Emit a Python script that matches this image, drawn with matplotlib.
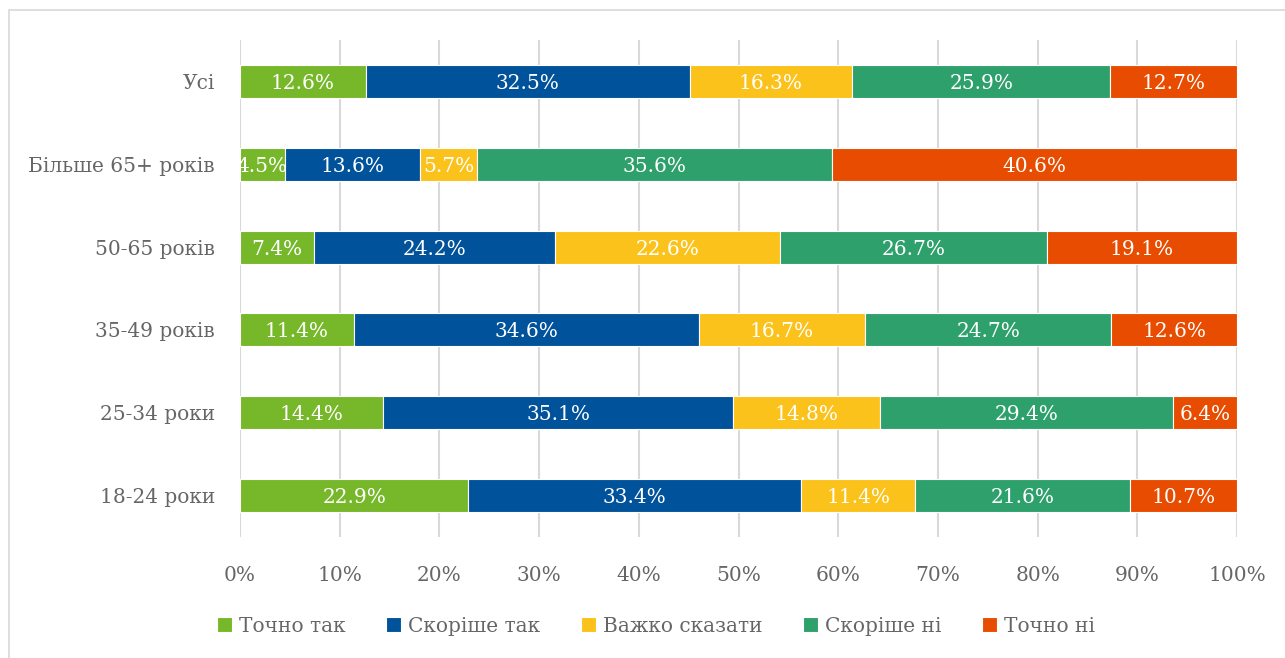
import numpy as np
import matplotlib
matplotlib.use("Agg")
from matplotlib import pyplot as plt
from matplotlib.patches import Rectangle

plt.rcParams['font.family'] = ['DejaVu Serif']

# data (top to bottom as in the picture)
groups = ['Усі', 'Більше 65+ років', '50-65 років', '35-49 років', '25-34 роки', '18-24 роки']
series = ['Точно так', 'Скоріше так', 'Важко сказати', 'Скоріше ні', 'Точно ні']
tochno_tak = [12.6, 4.5, 7.4, 11.4, 14.4, 22.9]
skorishe_tak = [32.5, 13.6, 24.2, 34.6, 35.1, 33.4]
vazhko = [16.3, 5.7, 22.6, 16.7, 14.8, 11.4]
skorishe_ni = [25.9, 35.6, 26.7, 24.7, 29.4, 21.6]
tochno_ni = [12.7, 40.6, 19.1, 12.6, 6.4, 10.7]
colors = ['#76B82A', '#00529B', '#FBC21B', '#2EA06B', '#E84C00']

vals = [tochno_tak, skorishe_tak, vazhko, skorishe_ni, tochno_ni]
fs = 14.5

fig = plt.figure(figsize=(12.85, 6.58), dpi=100)
ax = fig.add_axes([240/1285, 1-537/658, 997/1285, 497/658])

y = np.arange(len(groups))[::-1]
tot = np.array([sum(s[i] for s in vals) for i in range(len(groups))])
left = np.zeros(len(groups))
for name, v, c in zip(series, vals, colors):
    v = np.array(v)
    w = v / tot * 100
    ax.barh(y, w, left=left, height=0.4, color=c, label=name,
            edgecolor='white', linewidth=0.8, zorder=3)
    for yi, li, wi, vi in zip(y, left, w, v):
        ax.text(li + wi / 2, yi, f'{vi:.1f}%', ha='center', va='center_baseline',
                color='white', fontsize=fs, zorder=4)
    left += w

ax.set_xlim(0, 100)
ax.set_ylim(-0.5, 5.5)
ax.set_yticks(y)
ax.set_yticklabels(groups)
ax.set_xticks(np.arange(0, 101, 10))
ax.set_xticklabels([f'{t}%' for t in range(0, 101, 10)])
ax.tick_params(length=0, labelsize=fs, colors='#666666')
ax.tick_params(axis='y', pad=18)
ax.tick_params(axis='x', pad=21)
ax.grid(axis='x', color='#D9D9D9', linewidth=1.5, zorder=0)
for s in ax.spines.values():
    s.set_visible(False)

leg = fig.legend(loc='center', bbox_to_anchor=(656/1285, 1-626/658), ncol=5,
                 frameon=False, fontsize=fs, handlelength=0.75, handleheight=0.75,
                 handletextpad=0.35, columnspacing=2.0)
for t in leg.get_texts():
    t.set_color('#666666')

fig.patches.append(Rectangle((9/1285, -0.1), 1.2, 1-10/658+0.1, transform=fig.transFigure,
                             fill=False, edgecolor='#D9D9D9', linewidth=1.2))

fig.savefig('out.png', dpi=100)
